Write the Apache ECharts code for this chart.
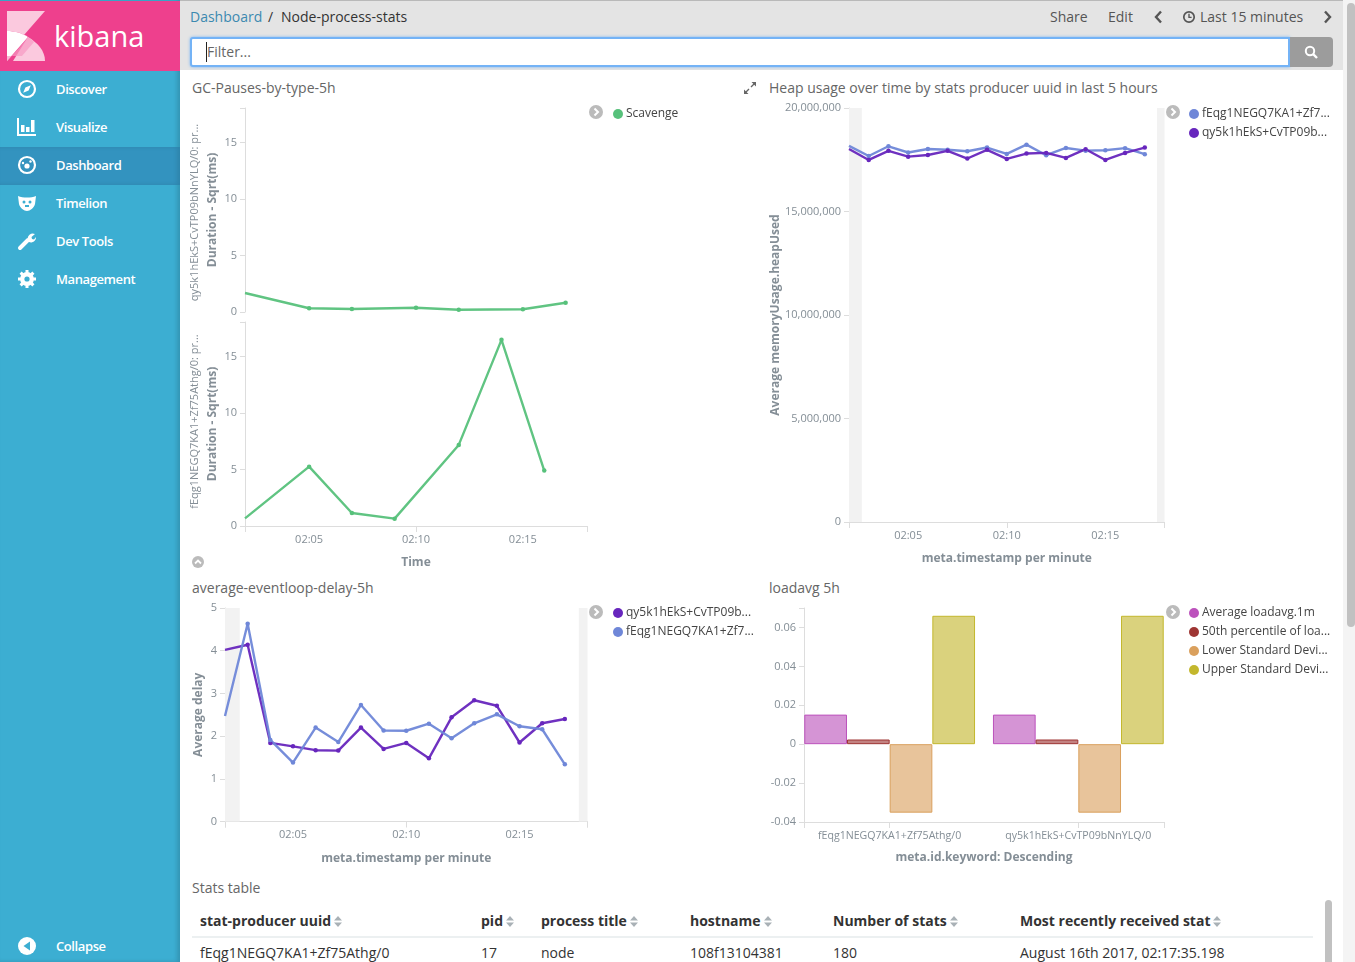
<!DOCTYPE html>
<html>
<head>
<meta charset="utf-8">
<title>Node-process-stats</title>
<script src="https://cdn.jsdelivr.net/npm/echarts@6/dist/echarts.min.js"></script>
<style>
html, body { margin: 0; padding: 0; width: 1355px; height: 962px; overflow: hidden; background: #fff;
  font-family: "Open Sans", sans-serif; color: #444; }
div.abs, span.abs, svg.abs { position: absolute; white-space: nowrap; }
#sidebar { position: absolute; left: 0; top: 0; width: 180px; height: 962px; background: #3caed2;
  box-shadow: inset -3px 0 4px rgba(0,0,0,.14); }
#logo { position: absolute; left: 0; top: 1px; width: 180px; height: 70px; background: #ee408d; }
#logo span { position: absolute; left: 54px; top: 12px; font-size: 29px; line-height: 46px; color: #fff; }
.nav { position: absolute; left: 0; width: 180px; height: 38px; line-height: 38px; color: #fff; font-size: 13px; font-weight: 600; letter-spacing: -.4px; }
.nav span { position: absolute; left: 56px; }
.nav svg { position: absolute; left: 17px; top: 9px; }
#activeband { position: absolute; left: 0; top: 147px; width: 180px; height: 38px; background: #3393bf; box-shadow: inset -3px 0 4px rgba(0,0,0,.1); }
#topbar { position: absolute; left: 180px; top: 0; width: 1165px; height: 70px; background: #e4e4e4; border-top: 1px solid #b9b9b9; box-sizing: border-box; }
.crumb { font-size: 14px; line-height: 20px; }
#filter { position: absolute; left: 190px; top: 37px; width: 1100px; height: 30px; box-sizing: border-box; background: #fff;
  border: 2px solid #74b3f6; border-radius: 3px 0 0 3px; box-shadow: 0 0 3px #74b3f6; font-size: 14px; line-height: 26px; color: #666; padding-left: 15px; }
#filter i { position: absolute; left: 14px; top: 3px; width: 1px; height: 20px; background: #222; }
#searchbtn { position: absolute; left: 1290px; top: 37px; width: 43px; height: 30px; background: #9c9c9c; border-radius: 0 4px 4px 0; }
.title { position: absolute; font-size: 14px; line-height: 20px; color: #666; white-space: nowrap; }
.th { position: absolute; top: 911px; font-size: 14px; font-weight: 700; line-height: 20px; color: #333; white-space: nowrap; }
.th svg { margin-left: 3px; vertical-align: -1px; }
.td { position: absolute; top: 943px; font-size: 14px; line-height: 20px; color: #333; white-space: nowrap; }
#chart { position: absolute; left: 0; top: 0; width: 1355px; height: 962px; }
</style>
</head>
<body>

<div id="topbar"></div>
<div class="abs crumb" style="left:190px;top:7px;color:#3c89b0">Dashboard</div>
<div class="abs crumb" style="left:268px;top:7px;color:#333">/</div>
<div class="abs crumb" style="left:281px;top:7px;color:#333">Node-process-stats</div>
<div class="abs crumb" style="left:1050px;top:7px;color:#555">Share</div>
<div class="abs crumb" style="left:1108px;top:7px;color:#555">Edit</div>
<svg class="abs" style="left:1153px;top:10px" width="10" height="14"><path d="M8 1.5 L3 7 L8 12.5" fill="none" stroke="#555" stroke-width="2.4"/></svg>
<svg class="abs" style="left:1182px;top:10px" width="14" height="14"><circle cx="7" cy="7" r="5.2" fill="none" stroke="#555" stroke-width="1.7"/><path d="M7 3.8 V7.4 H9.6" fill="none" stroke="#555" stroke-width="1.4"/></svg>
<div class="abs crumb" style="left:1200px;top:7px;color:#555">Last 15 minutes</div>
<svg class="abs" style="left:1323px;top:10px" width="10" height="14"><path d="M2 1.5 L7 7 L2 12.5" fill="none" stroke="#555" stroke-width="2.4"/></svg>
<div id="filter">Filter...<i></i></div>
<div id="searchbtn"><svg style="position:absolute;left:14px;top:8px" width="15" height="15"><circle cx="6" cy="6" r="4.2" fill="none" stroke="#fff" stroke-width="2"/><path d="M9.2 9.2 L13 13" stroke="#fff" stroke-width="2.4"/></svg></div>

<div id="sidebar">
  <div id="logo">
    <svg style="position:absolute;left:0;top:0" width="54" height="70">
      <path d="M7 10 H45 L24 34 C19 31 13 30 7 30 Z" fill="#fbc9de"/>
      <path d="M7 30 C14 30 22 32 28 36 L7 60 Z" fill="#fff"/>
      <path d="M28 36 C38 42 45 50 45 60 H13 Z" fill="#fbc9de"/>
      <path d="M19 47 L28 36 C31 38 33 40 34 41 L22 55 H7 V60 Z" fill="#f79ac3" opacity=".7"/>
    </svg>
    <span>kibana</span>
  </div>
  <div id="activeband"></div>
  <div class="nav" style="top:70px"><svg width="20" height="20"><circle cx="10" cy="10" r="8" fill="none" stroke="#fff" stroke-width="2.2"/><path d="M13.8 6.2 L11.6 11.6 L6.2 13.8 L8.4 8.4 Z" fill="#fff"/></svg><span>Discover</span></div>
  <div class="nav" style="top:108px"><svg width="20" height="20"><path d="M1 1 V18 H19" fill="none" stroke="#fff" stroke-width="2"/><rect x="4" y="8" width="3.5" height="7" fill="#fff"/><rect x="9" y="10" width="3.5" height="5" fill="#fff"/><rect x="14" y="3" width="3.5" height="12" fill="#fff"/></svg><span>Visualize</span></div>
  <div class="nav" style="top:146px"><svg width="20" height="20"><circle cx="10" cy="10" r="8" fill="none" stroke="#fff" stroke-width="2.2"/><circle cx="10" cy="11" r="2.6" fill="#fff"/><circle cx="6" cy="8" r="1.2" fill="#fff"/><circle cx="13.5" cy="6.5" r="1.2" fill="#fff"/></svg><span>Dashboard</span></div>
  <div class="nav" style="top:184px"><svg width="20" height="20"><path d="M1 3 C6 5 14 5 19 3 L18 11 C17 15 13 18 10 18 C7 18 3 15 2 11 Z" fill="#fff"/><circle cx="7" cy="9" r="1.5" fill="#3caed2"/><circle cx="13" cy="9" r="1.5" fill="#3caed2"/><rect x="8" y="12" width="4" height="2" fill="#3caed2"/></svg><span>Timelion</span></div>
  <div class="nav" style="top:222px"><svg width="20" height="20"><path d="M3 17 L11 9" stroke="#fff" stroke-width="4" stroke-linecap="round"/><path d="M11 9 A5 5 0 0 1 18 3 L14.5 6 L15 8 L17 8.5 L19 6 A5 5 0 0 1 12 11 Z" fill="#fff"/></svg><span>Dev Tools</span></div>
  <div class="nav" style="top:260px"><svg width="20" height="20"><circle cx="10" cy="10" r="5.2" fill="none" stroke="#fff" stroke-width="3.4"/><path d="M10 1 V19 M1 10 H19 M3.6 3.6 L16.4 16.4 M16.4 3.6 L3.6 16.4" stroke="#fff" stroke-width="3"/><circle cx="10" cy="10" r="2.6" fill="#3caed2"/></svg><span>Management</span></div>
  <div class="nav" style="top:927px"><svg width="20" height="20"><circle cx="10" cy="10" r="9" fill="#fff"/><path d="M13 5.5 V14.5 L6.5 10 Z" fill="#3caed2"/></svg><span>Collapse</span></div>
</div>

<div class="title" style="left:192px;top:78px">GC-Pauses-by-type-5h</div>
<svg class="abs" style="left:743px;top:81px" width="14" height="14"><path d="M8 6 L12.5 1.5 M6 8 L1.5 12.5" stroke="#666" stroke-width="1.4"/><path d="M8.5 1 H13 V5.5 Z M1 8.5 V13 H5.5 Z" fill="#666"/></svg>
<div class="title" style="left:769px;top:78px">Heap usage over time by stats producer uuid in last 5 hours</div>
<div class="title" style="left:192px;top:578px">average-eventloop-delay-5h</div>
<div class="title" style="left:769px;top:578px">loadavg 5h</div>
<div class="title" style="left:192px;top:878px">Stats table</div>

<svg class="abs" style="left:589px;top:105px" width="14" height="14"><circle cx="7" cy="7" r="7" fill="#bbb"/><path d="M5.5 3.5 L9 7 L5.5 10.5" fill="none" stroke="#fff" stroke-width="2"/></svg>
<svg class="abs" style="left:1166px;top:105px" width="14" height="14"><circle cx="7" cy="7" r="7" fill="#bbb"/><path d="M5.5 3.5 L9 7 L5.5 10.5" fill="none" stroke="#fff" stroke-width="2"/></svg>
<svg class="abs" style="left:589px;top:605px" width="14" height="14"><circle cx="7" cy="7" r="7" fill="#bbb"/><path d="M5.5 3.5 L9 7 L5.5 10.5" fill="none" stroke="#fff" stroke-width="2"/></svg>
<svg class="abs" style="left:1166px;top:605px" width="14" height="14"><circle cx="7" cy="7" r="7" fill="#bbb"/><path d="M5.5 3.5 L9 7 L5.5 10.5" fill="none" stroke="#fff" stroke-width="2"/></svg>
<svg class="abs" style="left:192px;top:556px" width="12" height="12"><circle cx="6" cy="6" r="6" fill="#bbb"/><path d="M3 7.5 L6 4.5 L9 7.5" fill="none" stroke="#fff" stroke-width="1.8"/></svg>

<div class="th" style="left:200px">stat-producer uuid<svg width="8" height="11"><path d="M4 0 L8 4.5 H0 Z M4 11 L8 6.5 H0 Z" fill="#a9b1b6"/></svg></div>
<div class="th" style="left:481px">pid<svg width="8" height="11"><path d="M4 0 L8 4.5 H0 Z M4 11 L8 6.5 H0 Z" fill="#a9b1b6"/></svg></div>
<div class="th" style="left:541px">process title<svg width="8" height="11"><path d="M4 0 L8 4.5 H0 Z M4 11 L8 6.5 H0 Z" fill="#a9b1b6"/></svg></div>
<div class="th" style="left:690px">hostname<svg width="8" height="11"><path d="M4 0 L8 4.5 H0 Z M4 11 L8 6.5 H0 Z" fill="#a9b1b6"/></svg></div>
<div class="th" style="left:833px">Number of stats<svg width="8" height="11"><path d="M4 0 L8 4.5 H0 Z M4 11 L8 6.5 H0 Z" fill="#a9b1b6"/></svg></div>
<div class="th" style="left:1020px">Most recently received stat<svg width="8" height="11"><path d="M4 0 L8 4.5 H0 Z M4 11 L8 6.5 H0 Z" fill="#a9b1b6"/></svg></div>
<div class="abs" style="left:192px;top:936px;width:1121px;height:2px;background:#ecf0f1"></div>
<div class="td" style="left:200px">fEqg1NEGQ7KA1+Zf75Athg/0</div>
<div class="td" style="left:481px">17</div>
<div class="td" style="left:541px">node</div>
<div class="td" style="left:690px">108f13104381</div>
<div class="td" style="left:833px">180</div>
<div class="td" style="left:1020px">August 16th 2017, 02:17:35.198</div>
<div class="abs" style="left:1325px;top:900px;width:7px;height:62px;background:#c1c1c1;border-radius:4px 4px 0 0"></div>

<div class="abs" style="left:1343px;top:0;width:12px;height:962px;background:#f4f4f4"></div>
<div class="abs" style="left:1347px;top:3px;width:8px;height:624px;background:#c1c1c1;border-radius:4px"></div>

<div id="chart"></div>

<script>
var AXIS_COLOR = '#ddd';
var LABEL_COLOR = '#848e96';
var NAME_COLOR = '#848e96';
var GREEN = '#57c17b';
var BLUE = '#6f87d8';
var PURPLE = '#6726bd';
var TRUNC_BLUE = 'fEqg1NEGQ7KA1+Zf7...';
var TRUNC_PURPLE = 'qy5k1hEkS+CvTP09b...';

var axisStart = '02:02';
var axisEnd = '02:18';
var timeLabels = ['02:05', '02:10', '02:15'];
var boundsLeft = '02:02:39';
var boundsRight = '02:17:37';

var gcTopTimes = ['02:02', '02:05', '02:07', '02:10', '02:12', '02:15', '02:17'];
var gcTopValues = [1.68, 0.33, 0.26, 0.38, 0.2, 0.24, 0.82];
var gcBottomTimes = ['02:02', '02:05', '02:07', '02:09', '02:12', '02:14', '02:16'];
var gcBottomValues = [0.68, 5.25, 1.15, 0.65, 7.17, 16.46, 4.9];

var minuteTimes = ['02:02', '02:03', '02:04', '02:05', '02:06', '02:07', '02:08', '02:09',
    '02:10', '02:11', '02:12', '02:13', '02:14', '02:15', '02:16', '02:17'];
var heapBlue = [18170000, 17680000, 18150000, 17850000, 18020000, 17980000, 17910000, 18090000,
    17780000, 18230000, 17720000, 18070000, 17940000, 17960000, 18060000, 17770000];
var heapPurple = [18020000, 17490000, 17930000, 17650000, 17730000, 17930000, 17560000, 17980000,
    17540000, 17800000, 17830000, 17590000, 18010000, 17490000, 17830000, 18090000];
var delayPurple = [4.02, 4.14, 1.84, 1.76, 1.67, 1.66, 2.2, 1.7, 1.84, 1.48, 2.44, 2.84, 2.71, 1.85, 2.3, 2.4];
var delayBlue = [2.47, 4.63, 1.91, 1.38, 2.2, 1.86, 2.73, 2.13, 2.125, 2.29, 1.95, 2.3, 2.51, 2.23, 2.16, 1.34];

var loadCategories = ['fEqg1NEGQ7KA1+Zf75Athg/0', 'qy5k1hEkS+CvTP09bNnYLQ/0'];
var loadAverage = [0.0152, 0.0152];
var loadMedian = [0.0024, 0.0024];
var loadLower = [-0.0352, -0.0352];
var loadUpper = [0.066, 0.066];

var gcYTop = 18.04;
var gcYLabels = [0, 5, 10, 15];
var loadYLabels = [-0.04, -0.02, 0, 0.02, 0.04, 0.06];
var loadYTop = 0.07;

function toTime(text)
{
    if(text.length == 5) text += ':00';
    return new Date('2017-08-16T' + text).getTime();
}

function zipTimes(times, values)
{
    return times.map(function(time, i) { return [toTime(time), values[i]]; });
}

function timeAxis(gridIndex, name, nameGap, show)
{
    var labelValues = timeLabels.map(toTime);
    return {
        type: 'time',
        gridIndex: gridIndex,
        show: show,
        min: toTime(axisStart),
        max: toTime(axisEnd),
        name: name,
        nameLocation: 'middle',
        nameGap: nameGap,
        nameTextStyle: {color: NAME_COLOR, fontSize: 12, fontWeight: 'bold', fontFamily: 'Open Sans'},
        axisLine: {show: true, onZero: false, lineStyle: {color: AXIS_COLOR}},
        axisTick: {show: true, length: 6, lineStyle: {color: AXIS_COLOR},
            customValues: [toTime(axisStart)].concat(labelValues, [toTime(axisEnd)])},
        axisLabel: {color: LABEL_COLOR, fontSize: 11, fontFamily: 'Open Sans', margin: 8,
            customValues: labelValues, formatter: '{HH}:{mm}'},
        splitLine: {show: false}
    };
}

function valueAxis(gridIndex, min, max, interval, name, nameGap)
{
    return {
        type: 'value',
        gridIndex: gridIndex,
        min: min,
        max: max,
        interval: interval,
        name: name,
        nameLocation: 'middle',
        nameGap: nameGap,
        nameTextStyle: {color: NAME_COLOR, fontSize: 12, fontWeight: 'bold', fontFamily: 'Open Sans'},
        axisLine: {show: true, onZero: false, lineStyle: {color: AXIS_COLOR}},
        axisTick: {show: true, length: 5, lineStyle: {color: AXIS_COLOR}},
        axisLabel: {color: LABEL_COLOR, fontSize: 11, fontFamily: 'Open Sans', margin: 8},
        splitLine: {show: false}
    };
}

// the first point of each line sits on the axis and shows no marker
function pointSize(value, params)
{
    return params.dataIndex == 0 ? 0 : 4.5;
}

function lineSeries(name, color, axisIndex, data, bands)
{
    var series = {
        name: name,
        type: 'line',
        xAxisIndex: axisIndex,
        yAxisIndex: axisIndex,
        data: data,
        clip: false,
        symbol: 'circle',
        symbolSize: pointSize,
        showAllSymbol: true,
        itemStyle: {color: color},
        lineStyle: {color: color, width: 2.4, opacity: 0.95}
    };
    if(bands)
    {
        series.markArea = {
            silent: true,
            itemStyle: {color: '#f2f2f2'},
            data: [
                [{xAxis: toTime(axisStart)}, {xAxis: toTime(boundsLeft)}],
                [{xAxis: toTime(boundsRight)}, {xAxis: toTime(axisEnd)}]
            ]
        };
    }
    return series;
}

function barSeries(name, color, values)
{
    return {
        name: name,
        type: 'bar',
        xAxisIndex: 4,
        yAxisIndex: 4,
        barGap: '0%',
        barCategoryGap: '9.5%',
        data: values.map(function(value, i) { return [i, value]; }),
        itemStyle: {color: echarts.color.modifyAlpha(color, 0.62), borderColor: color, borderWidth: 1}
    };
}

function legend(left, top, names)
{
    return {
        left: left,
        top: top,
        orient: 'vertical',
        padding: 0,
        itemGap: 7,
        itemWidth: 10,
        itemHeight: 10,
        icon: 'circle',
        selectedMode: false,
        data: names,
        textStyle: {color: '#444', fontSize: 12, fontFamily: 'Open Sans', padding: [0, 0, 0, -2]}
    };
}

function solidItem(name, color)
{
    return {name: name, itemStyle: {color: color, borderWidth: 0, opacity: 1}};
}

function sideLabel(x, y, text)
{
    return {
        type: 'text',
        x: x,
        y: y,
        rotation: Math.PI / 2,
        style: {text: text, fill: LABEL_COLOR, fontSize: 11, fontFamily: 'Open Sans', align: 'center', verticalAlign: 'middle'}
    };
}

var gcTopY = valueAxis(0, 0, gcYTop, 5, 'Duration - Sqrt(ms)', 26);
var gcBottomY = valueAxis(1, 0, gcYTop, 5, 'Duration - Sqrt(ms)', 26);
[gcTopY, gcBottomY].forEach(function(axis)
{
    axis.axisTick.customValues = gcYLabels.concat([gcYTop]);
    axis.axisLabel.customValues = gcYLabels;
});

var loadY = valueAxis(4, -0.04, loadYTop, 0.01, '', 0);
loadY.axisTick.customValues = loadYLabels.concat([loadYTop]);
loadY.axisLabel.customValues = loadYLabels;

var loadXMin = -0.454;
var loadXMax = 1.454;

var chart = echarts.init(document.getElementById('chart'));
chart.setOption({
    animation: false,
    grid: [
        {left: 245, top: 108, width: 342, height: 204},
        {left: 245, top: 322, width: 342, height: 204},
        {left: 849, top: 108, width: 315.5, height: 414},
        {left: 225, top: 608, width: 362.5, height: 213.5},
        {left: 804, top: 608, width: 360, height: 214}
    ],
    xAxis: [
        timeAxis(0, '', 0, false),
        timeAxis(1, 'Time', 31, true),
        timeAxis(2, 'meta.timestamp per minute', 31, true),
        timeAxis(3, 'meta.timestamp per minute', 31, true),
        {
            type: 'value',
            gridIndex: 4,
            min: loadXMin,
            max: loadXMax,
            name: 'meta.id.keyword: Descending',
            nameLocation: 'middle',
            nameGap: 30,
            nameTextStyle: {color: NAME_COLOR, fontSize: 12, fontWeight: 'bold', fontFamily: 'Open Sans'},
            axisLine: {show: true, onZero: false, lineStyle: {color: AXIS_COLOR}},
            axisTick: {show: true, length: 6, lineStyle: {color: AXIS_COLOR}, customValues: [loadXMin, 0, 1, loadXMax]},
            axisLabel: {color: LABEL_COLOR, fontSize: 10.6, fontFamily: 'Open Sans', margin: 8, customValues: [0, 1],
                formatter: function(value) { return loadCategories[value]; }},
            splitLine: {show: false}
        }
    ],
    yAxis: [
        gcTopY,
        gcBottomY,
        valueAxis(2, 0, 20000000, 5000000, 'Average memoryUsage.heapUsed', 66),
        valueAxis(3, 0, 5, 1, 'Average delay', 20),
        loadY
    ],
    legend: [
        legend(613, 108, ['Scavenge']),
        legend(1189, 108, [TRUNC_BLUE, TRUNC_PURPLE]),
        legend(613, 607, [TRUNC_PURPLE, TRUNC_BLUE]),
        legend(1189, 607, [
            solidItem('Average loadavg.1m', '#bc52bc'),
            solidItem('50th percentile of loa...', '#9e3533'),
            solidItem('Lower Standard Devi...', '#daa05d'),
            solidItem('Upper Standard Devi...', '#c3b72d')
        ])
    ],
    graphic: [
        sideLabel(195, 212.5, 'qy5k1hEkS+CvTP09bNnYLQ/0: pr...'),
        sideLabel(195, 421.5, 'fEqg1NEGQ7KA1+Zf75Athg/0: pr...')
    ],
    series: [
        lineSeries('Scavenge', GREEN, 0, zipTimes(gcTopTimes, gcTopValues)),
        lineSeries('Scavenge', GREEN, 1, zipTimes(gcBottomTimes, gcBottomValues)),
        lineSeries(TRUNC_BLUE, BLUE, 2, zipTimes(minuteTimes, heapBlue), true),
        lineSeries(TRUNC_PURPLE, PURPLE, 2, zipTimes(minuteTimes, heapPurple)),
        lineSeries(TRUNC_PURPLE, PURPLE, 3, zipTimes(minuteTimes, delayPurple), true),
        lineSeries(TRUNC_BLUE, BLUE, 3, zipTimes(minuteTimes, delayBlue)),
        barSeries('Average loadavg.1m', '#bc52bc', loadAverage),
        barSeries('50th percentile of loa...', '#9e3533', loadMedian),
        barSeries('Lower Standard Devi...', '#daa05d', loadLower),
        barSeries('Upper Standard Devi...', '#c3b72d', loadUpper)
    ]
});
</script>
</body>
</html>
